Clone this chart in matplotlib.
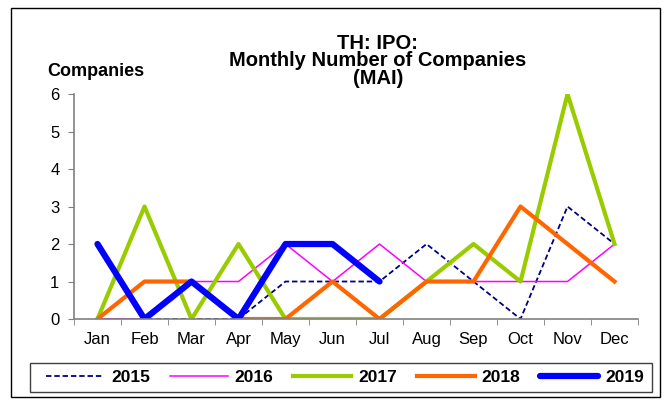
"""TH: IPO monthly number of companies (MAI)."""

import matplotlib.pyplot as plt
from matplotlib.patches import Rectangle

plt.rcParams["font.family"] = ["Liberation Sans", "DejaVu Sans"]

MONTHS = ["Jan", "Feb", "Mar", "Apr", "May", "Jun",
          "Jul", "Aug", "Sep", "Oct", "Nov", "Dec"]

Y2015 = [0, 0, 0, 0, 1, 1, 1, 2, 1, 0, 3, 2]
Y2016 = [0, 0, 1, 1, 2, 1, 2, 1, 1, 1, 1, 2]
Y2017 = [0, 3, 0, 2, 0, 0, 0, 1, 2, 1, 6, 2]
Y2018 = [0, 1, 1, 0, 0, 1, 0, 1, 1, 3, 2, 1]
Y2019 = [2, 0, 1, 0, 2, 2, 1]

YTICKS = [0, 1, 2, 3, 4, 5, 6]


def main():
    fig = plt.figure(figsize=(6.69, 4.03), dpi=100)
    ax = fig.add_axes([0.1106, 0.2084, 0.8431, 0.5583])

    x = range(len(MONTHS))
    ax.plot(x, Y2015, color="#000080", lw=1.3, ls=(0, (3, 1.6)), label="2015")
    ax.plot(x, Y2016, color="#FF00FF", lw=1.1, label="2016")
    ax.plot(x, Y2017, color="#99CC00", lw=3.0, label="2017")
    ax.plot(x, Y2018, color="#FF6600", lw=3.0, label="2018")
    ax.plot(range(len(Y2019)), Y2019, color="#0000FF", lw=4.5,
            solid_capstyle="round", label="2019")

    ax.set_xlim(-0.5, len(MONTHS) - 0.5)
    ax.set_ylim(0, 6)
    ax.set_yticks(YTICKS)
    ax.set_xticks(list(x))
    ax.set_xticklabels(MONTHS)
    ax.set_xticks([i - 0.5 for i in range(len(MONTHS) + 1)], minor=True)
    ax.tick_params(axis="x", which="major", length=0, labelsize=12, pad=9.5)
    ax.tick_params(axis="x", which="minor", length=4.5, color="#808080")
    ax.tick_params(axis="y", length=4.5, color="#808080", labelsize=12, pad=6)
    for side in ("top", "right"):
        ax.spines[side].set_visible(False)
    for side in ("left", "bottom"):
        ax.spines[side].set_color("#808080")
        ax.spines[side].set_linewidth(1.2)

    fig.text(0.565, 0.915, "TH: IPO:\nMonthly Number of Companies\n(MAI)",
             ha="center", va="top", fontsize=14.5, fontweight="bold",
             linespacing=0.88)
    fig.text(0.070, 0.822, "Companies", ha="left", va="center",
             fontsize=13, fontweight="bold")

    fig.legend(loc="center", bbox_to_anchor=(0.5157, 0.0633), ncol=5,
               frameon=False, prop={"weight": "bold", "size": 12.5},
               handlelength=3.33, columnspacing=1.15, handletextpad=0.4)
    fig.patches.append(Rectangle((0.0448, 0.0273), 0.9298, 0.072,
                                 transform=fig.transFigure, fill=False,
                                 edgecolor="#404040", lw=1.0))

    fig.patches.append(Rectangle((0.017, 0.015), 0.970, 0.965,
                                 transform=fig.transFigure, fill=False,
                                 edgecolor="black", lw=1.0))

    fig.savefig("out.png", dpi=100)


if __name__ == "__main__":
    main()
